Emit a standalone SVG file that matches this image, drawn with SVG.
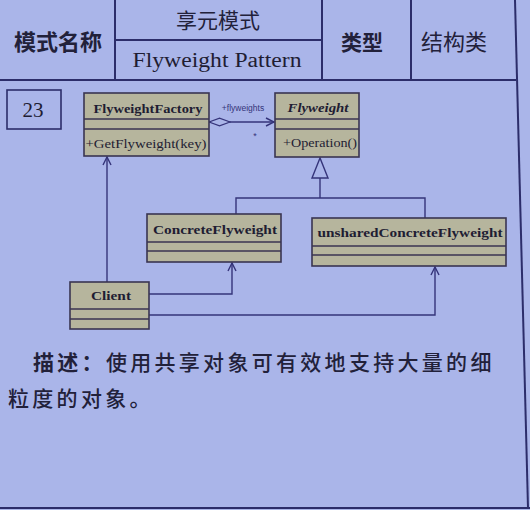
<svg xmlns="http://www.w3.org/2000/svg" width="530" height="510" viewBox="0 0 530 510">
  <style>
    .frame { stroke: #2c2d6a; stroke-width: 2; fill: none; }
    .cls { fill: #b6b59d; stroke: #3a3552; stroke-width: 1.6; }
    .sep { stroke: #3a3552; stroke-width: 1.6; }
    .wire { stroke: #35347a; stroke-width: 1.4; fill: none; }
    .cn { font-family: "Noto Sans CJK SC", "Noto Sans", sans-serif; fill: #22213a; }
    .serif { font-family: "Liberation Serif", "Times New Roman", serif; fill: #1f1d33; }
    .name { font-weight: bold; font-size: 12.5px; }
    .op { font-size: 12.5px; }
  </style>
  <defs>
    <marker id="open" viewBox="0 0 10 10" refX="9" refY="5" markerWidth="10" markerHeight="10" markerUnits="userSpaceOnUse" orient="auto">
      <path d="M1,1 L9,5 L1,9" fill="none" stroke="#35347a" stroke-width="1.4"/>
    </marker>
    <marker id="diamond" viewBox="0 0 24 10" refX="1" refY="5" markerWidth="23" markerHeight="10" markerUnits="userSpaceOnUse" orient="auto">
      <path d="M1,5 L12,1 L23,5 L12,9 Z" fill="#aab5e9" stroke="#35347a" stroke-width="1.3"/>
    </marker>
  </defs>

  <!-- page background -->
  <rect x="0" y="0" width="530" height="510" fill="#aab5e9"/>

  <!-- table frame -->
  <g id="frame">
    <line class="frame" x1="0" y1="80" x2="516" y2="80"/>
    <line class="frame" x1="115" y1="0" x2="115" y2="80"/>
    <line class="frame" x1="322" y1="0" x2="322" y2="80"/>
    <line class="frame" x1="411" y1="0" x2="411" y2="80"/>
    <line class="frame" x1="115" y1="40" x2="322" y2="40"/>
    <path class="frame" d="M515,0 L528,508"/>
    <line class="frame" x1="0" y1="508" x2="530" y2="508"/>
  </g>

  <!-- header cells -->
  <g id="header">
    <text class="cn" x="58" y="50" font-size="22" font-weight="bold" text-anchor="middle">模式名称</text>
    <text class="cn" x="218" y="28" font-size="21" text-anchor="middle">享元模式</text>
    <text class="serif" x="217" y="67" font-size="20" text-anchor="middle" textLength="169" lengthAdjust="spacingAndGlyphs">Flyweight Pattern</text>
    <text class="cn" x="362" y="50" font-size="21" font-weight="bold" text-anchor="middle">类型</text>
    <text class="cn" x="454" y="50" font-size="22" text-anchor="middle">结构类</text>
  </g>

  <!-- pattern number -->
  <g id="number">
    <rect x="7" y="90" width="54" height="39" fill="none" stroke="#2c2d6a" stroke-width="1.6"/>
    <text class="serif" x="33" y="117" font-size="21" text-anchor="middle">23</text>
  </g>

  <!-- connectors -->
  <g id="connectors">
    <!-- aggregation FlyweightFactory -> Flyweight -->
    <line class="wire" x1="209" y1="122" x2="274" y2="122" marker-start="url(#diamond)" marker-end="url(#open)"/>
    <text x="243" y="111" font-family="Liberation Sans, Arial, sans-serif" font-size="8.5" fill="#35347a" text-anchor="middle">+flyweights</text>
    <text x="255" y="139" font-family="Liberation Sans, Arial, sans-serif" font-size="9" fill="#35347a" text-anchor="middle">*</text>
    <!-- generalization -->
    <polyline class="wire" points="236,214 236,198 425,198 425,218"/>
    <line class="wire" x1="320" y1="198" x2="320" y2="178"/>
    <polygon points="320,158 312,178 328,178" fill="#aab5e9" stroke="#35347a" stroke-width="1.4"/>
    <!-- Client dependencies -->
    <line class="wire" x1="107" y1="282" x2="107" y2="157" marker-end="url(#open)"/>
    <polyline class="wire" points="149,294 232,294 232,263" marker-end="url(#open)"/>
    <polyline class="wire" points="149,315 435,315 435,267" marker-end="url(#open)"/>
  </g>

  <g id="FlyweightFactory">
    <rect class="cls" x="84" y="93" width="125" height="63"/>
    <line class="sep" x1="84" y1="119" x2="209" y2="119"/>
    <line class="sep" x1="84" y1="129" x2="209" y2="129"/>
    <text class="serif name" x="148" y="113" text-anchor="middle" textLength="109" lengthAdjust="spacingAndGlyphs">FlyweightFactory</text>
    <text class="serif op" x="146" y="148" text-anchor="middle" textLength="121" lengthAdjust="spacingAndGlyphs">+GetFlyweight(key)</text>
  </g>

  <g id="Flyweight">
    <rect class="cls" x="275" y="93" width="84" height="64"/>
    <line class="sep" x1="275" y1="119" x2="359" y2="119"/>
    <line class="sep" x1="275" y1="129" x2="359" y2="129"/>
    <text class="serif name" x="318" y="112" font-style="italic" text-anchor="middle" textLength="61" lengthAdjust="spacingAndGlyphs">Flyweight</text>
    <text class="serif op" x="320" y="147" text-anchor="middle" textLength="74" lengthAdjust="spacingAndGlyphs">+Operation()</text>
  </g>

  <g id="ConcreteFlyweight">
    <rect class="cls" x="147" y="214" width="134" height="48"/>
    <line class="sep" x1="147" y1="242" x2="281" y2="242"/>
    <line class="sep" x1="147" y1="251" x2="281" y2="251"/>
    <text class="serif name" x="215" y="234" text-anchor="middle" textLength="124" lengthAdjust="spacingAndGlyphs">ConcreteFlyweight</text>
  </g>

  <g id="unsharedConcreteFlyweight">
    <rect class="cls" x="312" y="218" width="194" height="48"/>
    <line class="sep" x1="312" y1="246" x2="506" y2="246"/>
    <line class="sep" x1="312" y1="255" x2="506" y2="255"/>
    <text class="serif name" x="410" y="237" text-anchor="middle" textLength="185" lengthAdjust="spacingAndGlyphs">unsharedConcreteFlyweight</text>
  </g>

  <g id="Client">
    <rect class="cls" x="70" y="282" width="79" height="47"/>
    <line class="sep" x1="70" y1="309" x2="149" y2="309"/>
    <line class="sep" x1="70" y1="319" x2="149" y2="319"/>
    <text class="serif name" x="111" y="300" text-anchor="middle" textLength="40" lengthAdjust="spacingAndGlyphs">Client</text>
  </g>

  <!-- description -->
  <g id="description">
    <text class="cn" x="33" y="370" font-size="21" font-weight="500" letter-spacing="3.3"><tspan font-weight="bold">描述：</tspan>使用共享对象可有效地支持大量的细</text>
    <text class="cn" x="8" y="406" font-size="21" font-weight="500" letter-spacing="3.3">粒度的对象。</text>
  </g>
</svg>
